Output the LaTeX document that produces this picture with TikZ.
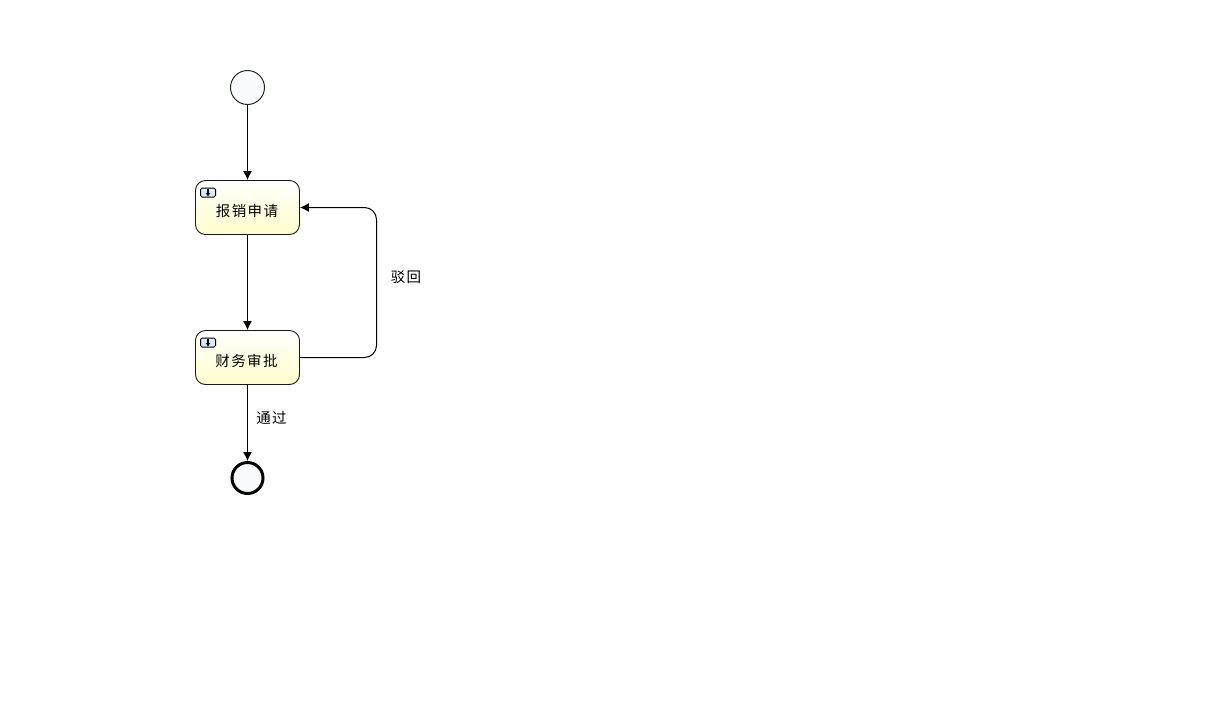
\documentclass[tikz,border=0pt]{standalone}
\usepackage{fontspec}
\newfontfamily\cjk{Noto Sans CJK SC}
\usetikzlibrary{arrows.meta,calc}
\definecolor{evfill}{HTML}{FAFBFE}
\definecolor{taskend}{HTML}{FFFFCC}
\definecolor{iconfill}{HTML}{D8EAF8}
\tikzset{
  x=1pt,y=-1pt,
  flow/.style={draw=black,line width=1pt,-{Latex[length=9pt,width=9pt]}},
  startev/.style={circle,draw=black!85,line width=1pt,fill=evfill,minimum size=34pt,inner sep=0pt},
  endev/.style={circle,draw=black,line width=3pt,fill=evfill,minimum size=31pt,inner sep=0pt},
  task/.style={rectangle,rounded corners=10pt,draw=black!90,line width=0.9pt,top color=white,bottom color=taskend,
    minimum width=104pt,minimum height=54pt,inner sep=0pt},
  tasktext/.style={font=\cjk\fontsize{14.5}{16}\selectfont,inner sep=0pt},
  edgelabel/.style={font=\cjk\fontsize{14.5}{16}\selectfont,inner sep=0pt},
  icon/.style={rectangle,rounded corners=1.5pt,draw=black,line width=1pt,fill=iconfill,minimum width=15pt,minimum height=9pt,inner sep=0pt},
  glyph/.style={draw=black,line width=1.2pt,-{Latex[length=3.5pt,width=5pt]}}
}
\begin{document}
\begin{tikzpicture}
\useasboundingbox (0,0) rectangle (1221,702);
\node[startev] (start) at (247.5,87.5) {};
\node[task] (apply) at (247.5,207.5) {};
\node[task] (review) at (247.5,357.5) {};
\node[endev] (finish) at (247.5,478) {};
\node[tasktext] (applyt) at (247,210.5) {报\hspace{1.4pt}销\hspace{1.4pt}申\hspace{1.4pt}请};
\node[tasktext] (reviewt) at (246.5,360.5) {财\hspace{1.4pt}务\hspace{1.4pt}审\hspace{1.4pt}批};
\node[icon] (icon1) at (208,192.5) {};
\node[icon] (icon2) at (208,342.5) {};
\coordinate (g1a) at (208,189);
\coordinate (g1b) at (208,196.5);
\coordinate (g2a) at (208,339);
\coordinate (g2b) at (208,346.5);
\draw[glyph] (g1a) -- (g1b);
\draw[glyph] (g2a) -- (g2b);
\draw[flow] (start) -- (apply);
\draw[flow] (apply) -- (review);
\draw[flow] (review) -- (finish);
\coordinate (c1) at (376.5,357.5);
\coordinate (c2) at (376.5,207.5);
\draw[flow,rounded corners=12pt] (review.east) -- (c1) -- (c2) -- (apply.east);
\node[edgelabel] (back) at (406,277.5) {驳\hspace{1.4pt}回};
\node[edgelabel] (pass) at (271.5,417.5) {通\hspace{1.4pt}过};
\end{tikzpicture}
\end{document}
